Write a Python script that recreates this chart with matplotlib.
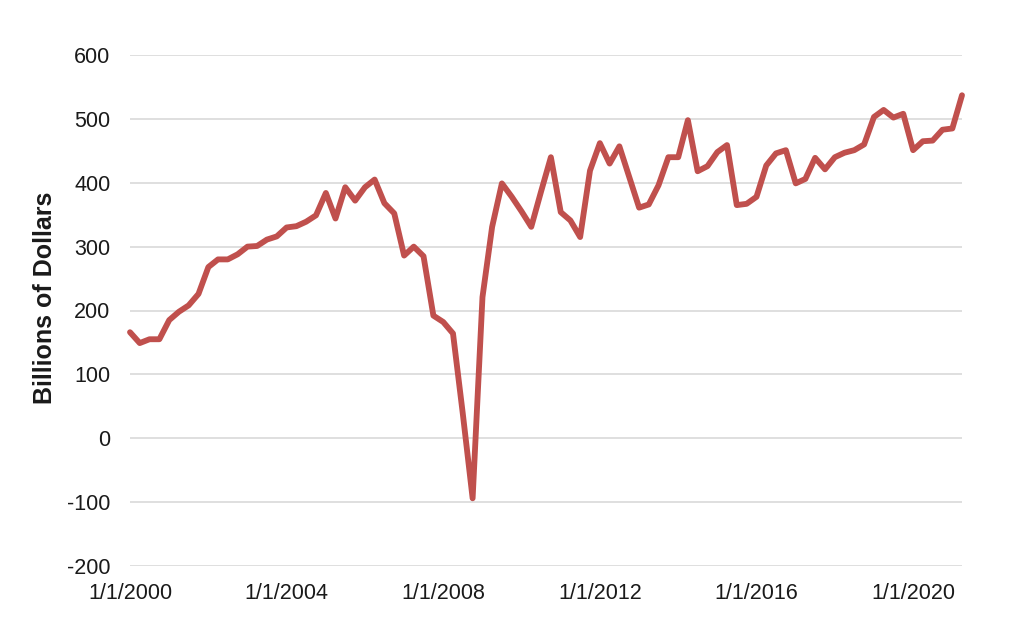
import matplotlib
matplotlib.use("Agg")
import matplotlib.pyplot as plt
import pandas as pd

# quarterly values, 2000Q1 .. 2021Q2 (billions of dollars)
values = [
    166, 149, 155, 155, 185, 198, 208, 226, 268, 280,
    280, 288, 300, 301, 311, 316, 330, 332, 339, 349,
    384, 344, 393, 372, 393, 405, 368, 352, 286, 300,
    285, 192, 182, 164, 39, -94, 221, 331, 399, 378,
    355, 331, 386, 440, 354, 341, 315, 419, 462, 430,
    457, 409, 361, 366, 396, 440, 440, 498, 418, 426,
    448, 459, 365, 367, 378, 427, 446, 451, 399, 406,
    439, 421, 440, 447, 451, 460, 503, 514, 502, 508,
    451, 465, 466, 483, 485, 537,
]
dates = pd.date_range("2000-01-01", periods=len(values), freq="QS")
tick_years = [2000, 2004, 2008, 2012, 2016, 2020]
y_ticks = [-200, -100, 0, 100, 200, 300, 400, 500, 600]

plt.rcParams['font.family'] = ['Liberation Sans', 'DejaVu Sans']

fig = plt.figure(figsize=(10.24, 6.33), dpi=100)
ax = fig.add_axes([130 / 1024, 1 - 566 / 633, 832 / 1024, 511 / 633])

ax.plot(dates, values, color='#C0504D', linewidth=4.2, solid_joinstyle='round',
        solid_capstyle='round', zorder=3, clip_on=False)

ax.set_xlim(dates[0], dates[-1])
ax.set_ylim(-200, 600)
ax.set_yticks(y_ticks)
ax.set_yticklabels([str(v) for v in y_ticks])
ax.grid(axis='y', color='#D9D9D9', linewidth=1.2, zorder=0)

ticks = [pd.Timestamp(f"{y}-01-01") for y in tick_years]
ax.set_xticks(ticks)
ax.set_xticklabels([f"{t.month}/{t.day}/{t.year}" for t in ticks])

ax.tick_params(axis='both', length=0, labelsize=15.5, colors='#1a1a1a')
ax.tick_params(axis='y', pad=14)
ax.tick_params(axis='x', pad=12)
for s in ax.spines.values():
    s.set_visible(False)

fig.text(45 / 1024, 1 - 298 / 633, 'Billions of Dollars', rotation=90,
         fontsize=18, fontweight='bold', ha='center', va='center', color='#1a1a1a')

fig.savefig('out.png', dpi=100)
